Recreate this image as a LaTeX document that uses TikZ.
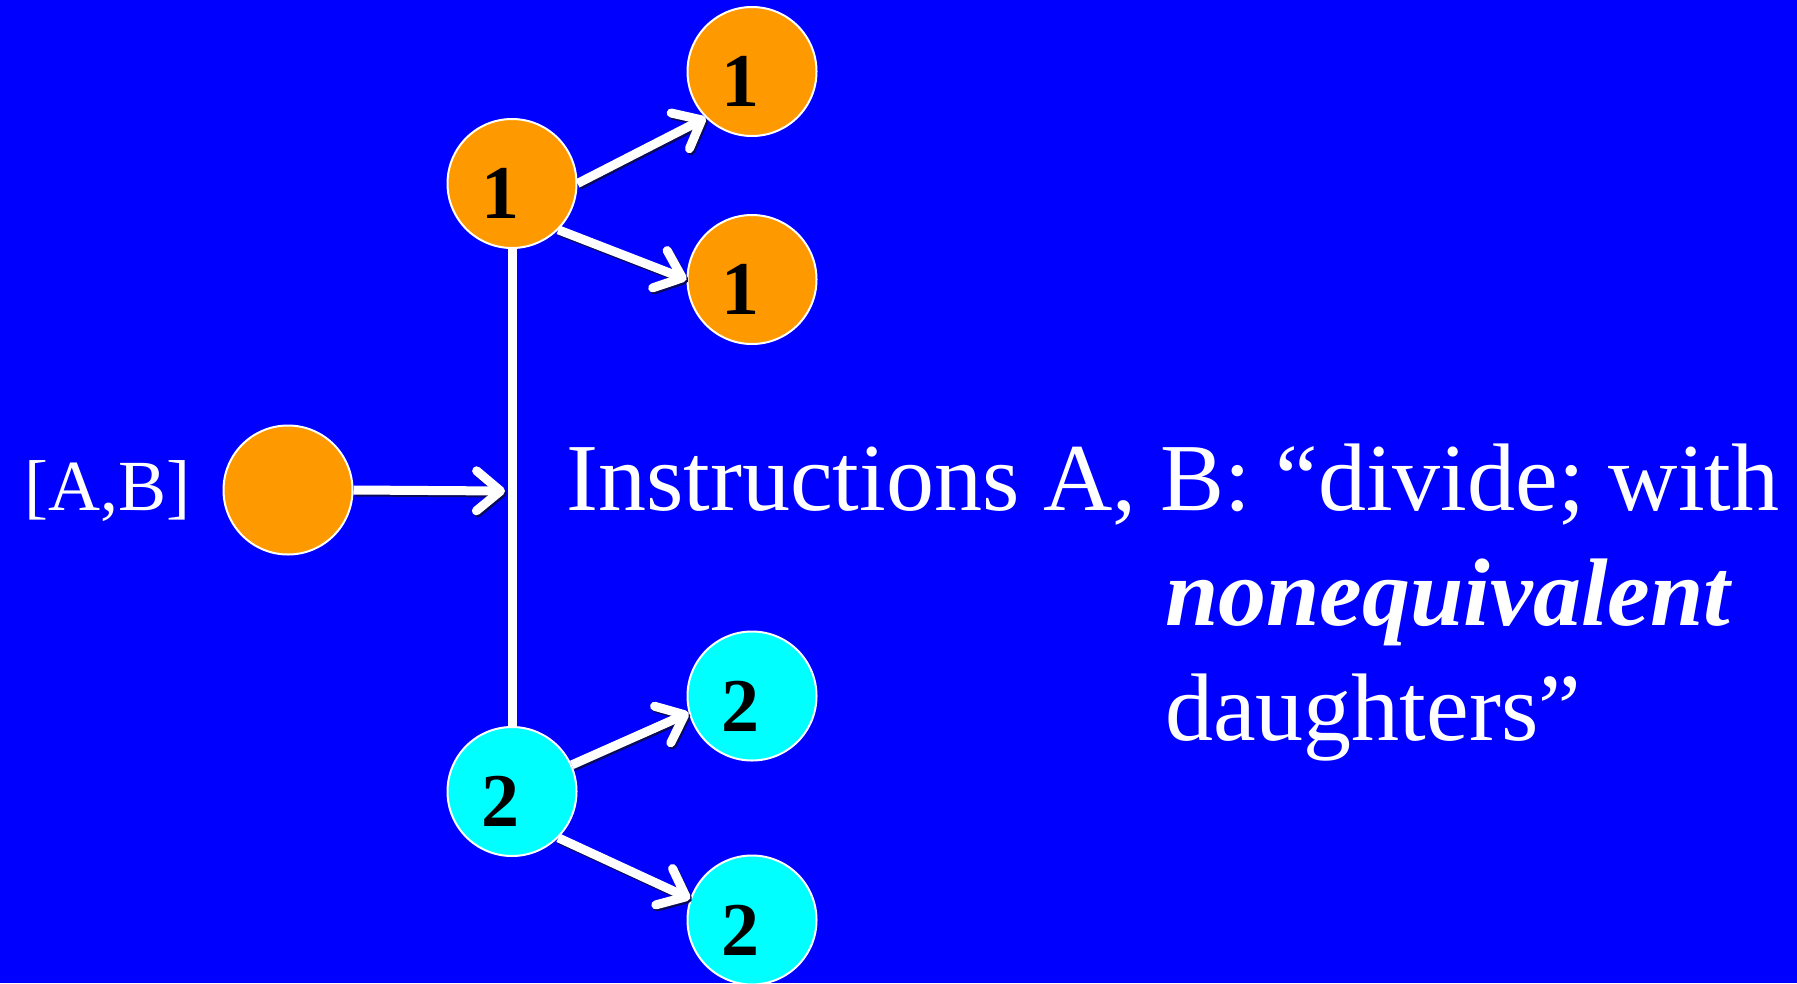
\documentclass[tikz,border=0pt]{standalone}
\usepackage{fontspec}
\setmainfont{Liberation Serif}
\usetikzlibrary{arrows.meta}
\definecolor{bgblue}{RGB}{0,0,255}
\definecolor{orng}{RGB}{255,153,0}
\definecolor{cyn}{RGB}{0,255,255}
\definecolor{shadowblue}{RGB}{10,10,90}
\begin{document}
\begin{tikzpicture}[x=1pt,y=-1pt,
  cell/.style={circle, draw=white, line width=2pt, minimum size=129pt, inner sep=0pt},
  ocell/.style={cell, fill=orng},
  ccell/.style={cell, fill=cyn},
  digit/.style={label={[font=\fontsize{76}{76}\selectfont\bfseries, text=black, xshift=-12pt, yshift=-10pt]center:#1}},
  conn/.style={draw=white, line width=9pt, -{Straight Barb[length=24pt,width=40pt,round]},
    preaction={draw=shadowblue, line width=9pt, transform canvas={shift={(1.5pt,-2pt)}}}},
  stem/.style={draw=white, line width=9pt},
  txt/.style={anchor=base west, inner sep=0pt, text=white}
]
\useasboundingbox (0,0) rectangle (1797,983);
\fill[bgblue] (0,0) rectangle (1797,983);

\node[ocell] (l) at (288,490) {};
\node[ocell, digit=1] (p1) at (512,183.5) {};
\node[ocell, digit=1] (a1) at (752,71.5) {};
\node[ocell, digit=1] (a2) at (752,279.5) {};
\node[ccell, digit=2] (p2) at (512,791.5) {};
\node[ccell, digit=2] (b1) at (752,696) {};
\node[ccell, digit=2] (b2) at (752,920) {};

\draw[stem] (p1.south) -- (p2.north);
\coordinate (m) at (505,491);
\draw[conn] (l.east) -- (m);
\draw[conn] (p1.0) -- (a1.225);
\draw[conn] (p1.-45) -- (a2.180);
\draw[conn] (p2.24) -- (b1.195);
\draw[conn] (p2.-45) -- (b2.161);

\node[txt, font=\fontsize{72}{86}\selectfont] (ab) at (24,510) {[A,B]};
\node[txt, align=left, font=\fontsize{96}{115}\selectfont] (instr) at (566,740)
  {Instructions A, B: “divide; with\\\hspace*{599pt}\textbf{\textit{nonequivalent}}\\\hspace*{599pt}daughters”};
\end{tikzpicture}
\end{document}
